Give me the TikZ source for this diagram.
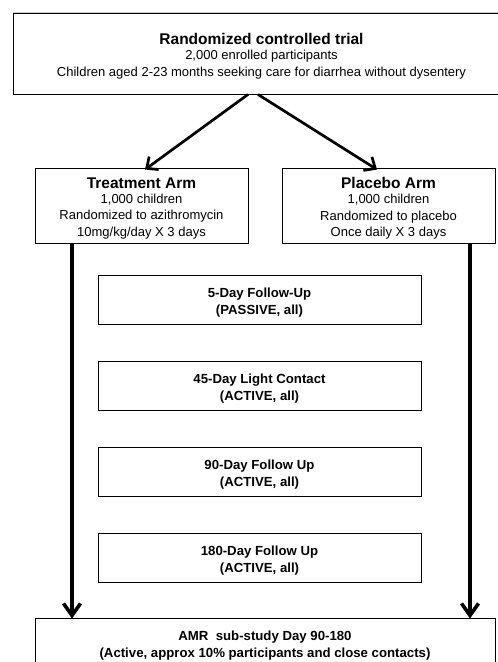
\documentclass[tikz,border=0pt]{standalone}
\usepackage{fontspec}
\setmainfont{Liberation Sans}
\usetikzlibrary{arrows.meta}
\tikzset{
  box/.style={draw=black, line width=0.9pt, rectangle, inner sep=0pt, fill=white},
  txt/.style={inner sep=0pt, align=center},
  bodyf/.style={font=\fontsize{13}{16.5}\selectfont},
  fupf/.style={font=\fontsize{13.2}{17}\selectfont\bfseries},
  diagarr/.style={line width=2.7pt, -{Straight Barb[length=9pt,width=16pt,line width=2.7pt]}},
  vertarr/.style={line width=3.8pt, -{Straight Barb[length=12pt,width=17pt,line width=3.6pt]}}
}
\newcommand{\ttl}[1]{{\fontsize{15.5}{17}\selectfont\bfseries #1}}
\begin{document}
\begin{tikzpicture}[x=1pt,y=-1pt]
\useasboundingbox (0,0) rectangle (498,662);
\clip (0,0) rectangle (498,662);
\fill[white] (0,0) rectangle (498,662);
% top box
\node[box, minimum width=497pt, minimum height=81pt] (top) at (261.5,53.5) {};
\node[txt, bodyf] (topt) at ([yshift=-2.5pt]top.center)
  {\ttl{Randomized controlled trial}\\[-1pt]
   2,000 enrolled participants\\
   Children aged 2-23 months seeking care for diarrhea without dysentery};
\draw[black!20, line width=1.4pt] (top.north west) -- (top.north east);
% arms
\node[box, minimum width=213pt, minimum height=75pt] (treat) at (141.5,205.5) {};
\node[txt, bodyf] (treatt) at ([yshift=-3pt]treat.center)
  {\ttl{Treatment Arm}\\[-1.5pt]
   1,000 children\\
   Randomized to azithromycin\\
   10mg/kg/day X 3 days};
\node[box, minimum width=213pt, minimum height=75pt] (plac) at (388.5,205.5) {};
\node[txt, bodyf] (plact) at ([yshift=-3pt]plac.center)
  {\ttl{Placebo Arm}\\[-1.5pt]
   1,000 children\\
   Randomized to placebo\\
   Once daily X 3 days};
% follow-up boxes
\node[box, minimum width=323pt, minimum height=49pt] (f5) at (259.5,299.5) {};
\node[txt, fupf] (f5t) at ([yshift=-3pt]f5.center) {5-Day Follow-Up\\(PASSIVE, all)};
\node[box, minimum width=323pt, minimum height=49pt] (f45) at (259.5,386) {};
\node[txt, fupf] (f45t) at ([yshift=-3pt]f45.center) {45-Day Light Contact\\(ACTIVE, all)};
\node[box, minimum width=323pt, minimum height=49pt] (f90) at (259.5,471.5) {};
\node[txt, fupf] (f90t) at ([yshift=-3pt]f90.center) {90-Day Follow Up\\(ACTIVE, all)};
\node[box, minimum width=323pt, minimum height=49pt] (f180) at (259.5,557.5) {};
\node[txt, fupf] (f180t) at ([yshift=-3pt]f180.center) {180-Day Follow Up\\(ACTIVE, all)};
% bottom box
\node[box, minimum width=460pt, minimum height=51pt] (amr) at (265,643.5) {};
\node[txt, fupf] (amrt) at ([yshift=-2pt]amr.center)
  {AMR\ \ sub-study Day 90-180\\(Active, approx 10\% participants and close contacts)};
% connectors
\draw[diagarr] ([xshift=-13.5pt]top.south) -- ([xshift=3.5pt,yshift=-2pt]treat.north);
\draw[diagarr] ([xshift=-3.5pt]top.south) -- ([xshift=-11.5pt,yshift=-2pt]plac.north);
\draw[vertarr] ([xshift=-69.5pt]treat.south) -- ([xshift=-69.5pt,yshift=-1pt]treat.south |- amr.north);
\draw[vertarr] ([xshift=81.5pt]plac.south) -- ([xshift=81.5pt,yshift=-1pt]plac.south |- amr.north);
\end{tikzpicture}
\end{document}
